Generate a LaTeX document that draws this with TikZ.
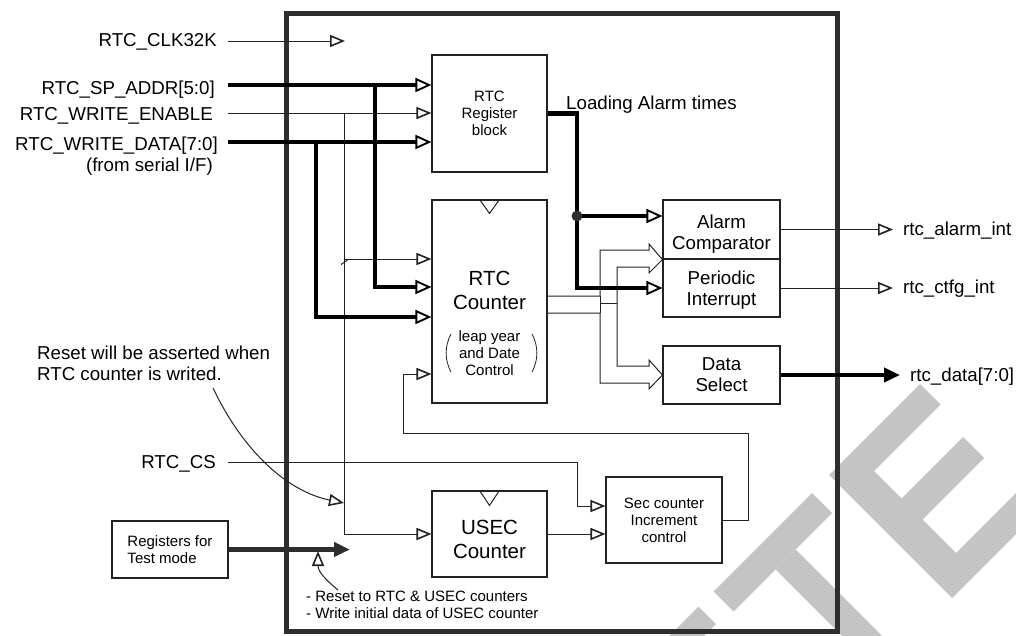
\documentclass[tikz,border=0pt]{standalone}
\usepackage{fontspec}
\setmainfont{Liberation Sans}
\usetikzlibrary{arrows.meta}
\definecolor{frm}{HTML}{2E2E2E}
\definecolor{wm}{HTML}{C4C4C4}
\definecolor{ln}{HTML}{222222}
\newcommand\fLg{\fontsize{18.7}{21}\selectfont}
\newcommand\fSm{\fontsize{15}{17}\selectfont}
\newcommand\fBg{\fontsize{20.5}{24}\selectfont}
\begin{document}
\begin{tikzpicture}[x=1pt,y=-1pt,
  blk/.style={draw=ln, line width=1.1pt, inner sep=0pt, align=center},
  wire/.style={draw=ln, line width=1pt},
  bus/.style={draw=black, line width=4.5pt},
  oa/.style={-{Triangle[open,line width=1.6pt,length=15pt,width=12pt]}},
  ob/.style={-{Triangle[open,line width=1.9pt,length=16pt,width=14pt]}},
  sa/.style={-{Triangle[length=16pt,width=14pt]}},
  lbl/.style={font=\fLg, inner sep=0pt},
  sml/.style={font=\fSm, inner sep=0pt, align=center},
  big/.style={font=\fBg, inner sep=0pt, align=center},
]
\useasboundingbox (0,0) rectangle (1016,635);

% watermark
\begin{scope}
\clip (0,0) rectangle (1016,635);
\fill[wm] (713.5,591.5) -- (812,493) -- (832,513) -- (733.5,611.5) -- cycle;
\fill[wm] (775.5,569.5) -- (795.5,549.5) -- (923,677) -- (903,697) -- cycle;
\fill[wm] (698.5,606.5) -- (716,624) -- (645,695) -- (627.5,677.5) -- cycle;
\fill[wm] (829,475) -- (920,384) -- (940.5,404.5) -- (874,471) -- (901.5,498.5) -- (963,437) -- (984,458) -- (922.5,519.5) -- (956,553) -- (1104.5,404.5) -- (1125,425) -- (952,598) -- cycle;
\end{scope}

% chip frame
\node[draw=frm, line width=5pt, minimum width=551.5pt, minimum height=618pt, inner sep=0pt] (chip) at (561.75,322.5) {};

% blocks
\node[blk, font=\fSm, minimum width=115pt, minimum height=117pt] (reg) at (489.5,113.5) {RTC\\Register\\block};
\node[blk, minimum width=115pt, minimum height=203pt] (cnt) at (489.5,301.5) {};
\node[big] (cntt) at (489.5,290) {RTC\\Counter};
\node[sml] (leap) at (489.5,353) {leap year\\and Date\\Control};
\draw[wire, line width=0.8pt] (451,334) .. controls (444.5,346) and (444.5,360) .. (451,372);
\draw[wire, line width=0.8pt] (532,334) .. controls (538.5,346) and (538.5,360) .. (532,372);
\draw[wire] ([xshift=-10pt]cnt.north) -- ([yshift=-14pt]cnt.north) -- ([xshift=10pt]cnt.north);

\node[blk, minimum width=117pt, minimum height=59pt] (alarm) at (721.5,229.5) {};
\node[lbl, align=center] (alarmt) at (721.5,234.5) {Alarm\\Comparator};
\node[blk, minimum width=117pt, minimum height=58pt] (per) at (721.5,288) {};
\node[lbl, align=center] (pert) at (721.5,290) {Periodic\\Interrupt};
\node[blk, font=\fLg, minimum width=117pt, minimum height=58pt] (ds) at (721.5,375) {Data\\Select};

\node[blk, minimum width=115pt, minimum height=86pt] (usec) at (489.5,534) {};
\node[big] (usect) at (489.5,539) {USEC\\Counter};
\draw[wire] ([xshift=-10pt]usec.north) -- ([yshift=-15pt]usec.north) -- ([xshift=10pt]usec.north);
\node[blk, font=\fSm, minimum width=116pt, minimum height=86pt] (sec) at (664,520) {Sec counter\\Increment\\control};
\node[blk, font=\fSm, align=left, minimum width=116pt, minimum height=57pt] (test) at (170,549.5) {Registers for\\Test mode};

% labels
\node[lbl, anchor=base east] (lclk) at (217,46.7) {RTC\_CLK32K};
\node[lbl, anchor=base east] (lsp) at (215,94.3) {RTC\_SP\_ADDR[5:0]};
\node[lbl, anchor=base east] (lwe) at (213,120.7) {RTC\_WRITE\_ENABLE};
\node[lbl, anchor=base east] (lwd) at (218,150.7) {RTC\_WRITE\_DATA[7:0]};
\node[lbl, anchor=base east] (lser) at (213,171.5) {(from serial I/F)};
\node[lbl, anchor=base east] (lcs) at (216,468.3) {RTC\_CS};
\node[lbl, anchor=base west] (oal) at (903,235) {rtc\_alarm\_int};
\node[lbl, anchor=base west] (oct) at (903,293.5) {rtc\_ctfg\_int};
\node[lbl, anchor=base west] (odt) at (910,381.5) {rtc\_data[7:0]};
\node[lbl, anchor=west] (load) at (566,105) {Loading Alarm times};
\node[lbl, anchor=west, align=left] (note1) at (37,363.5) {Reset will be asserted when\\RTC counter is writed.};
\node[sml, anchor=west, align=left] (note2) at (306,605) {- Reset to RTC \& USEC counters\\- Write initial data of USEC counter};

% input connectors
\coordinate (clkS) at (228,41);
\coordinate (clkT) at (345,41);
\draw[wire,oa] (clkS) -- (clkT);
\coordinate (spS) at (228,85);
\coordinate (weS) at (228,113);
\coordinate (wdS) at (228,142);
\draw[wire,oa] (weS) -- (weS -| reg.west);
\coordinate (weJ) at (344,113);
\draw[wire,oa] (weJ) |- (usec.west);
\coordinate (weK) at (344,259);
\draw[wire,oa] (weK) -- (cnt.west |- weK);
\draw[wire] (341,264.5) -- (347.5,260);
\draw[bus,ob] (spS) -- (spS -| reg.west);
\draw[bus,ob] (wdS) -- (wdS -| reg.west);
\coordinate (spJ) at (375,85);
\draw[bus,ob] (spJ) |- (cnt.west |- 0,287);
\coordinate (wdJ) at (316,142);
\draw[bus,ob] (wdJ) |- (cnt.west |- 0,317);

% hollow bus from counter
\draw[wire] (cnt.east |- 0,296) -- (600,296) -- (600,250) -- (649,250) -- (649,244) -- (alarm.south west) -- (649,273) -- (649,267) -- (617,267) -- (617,366) -- (649,366) -- (649,360) -- (ds.west) -- (649,389) -- (649,383) -- (600,383) -- (600,313) -- (cnt.east |- 0,313);
\draw[wire] (600,296) -- (600,313);
\draw[wire] (600,303) -- (617,303);

% loading alarm times
\coordinate (ldJ) at (reg.east -| 577,0);
\coordinate (ldD) at (577,216);
\draw[bus,ob] (reg.east) -- (ldJ) |- (per.west);
\draw[bus,ob] (ldD) -- (alarm.west |- ldD);
\fill[frm] (ldD) circle (5.5);

% outputs
\coordinate (oaT) at (893,229.5);
\coordinate (ocT) at (893,288);
\coordinate (odT) at (900,375);
\draw[wire,oa] (alarm.east) -- (oaT);
\draw[wire,oa] (per.east) -- (ocT);
\draw[bus,sa] (ds.east) -- (odT);

% feedback and control
\coordinate (fb1) at (748,520);
\coordinate (fb2) at (748,433);
\coordinate (fb3) at (403,433);
\coordinate (fb4) at (403,374);
\draw[wire,oa] (sec.east) -- (fb1) -- (fb2) -- (fb3) -- (fb4) -- (cnt.west |- fb4);
\coordinate (csS) at (228,462);
\coordinate (csJ) at (577,462);
\coordinate (csK) at (577,506);
\draw[wire,oa] (csS) -- (csJ) -- (csK) -- (sec.west |- csK);
\draw[wire,oa] (usec.east) -- (usec.east -| sec.west);

% test mode
\coordinate (tmT) at (350,549.5);
\draw[draw=frm, line width=4.5pt, sa] (test.east) -- (tmT);

% annotation arrows
\coordinate (n1S) at (213,388);
\coordinate (n1E) at (344,503);
\draw[wire,oa] (n1S) .. controls (245,455) and (290,492) .. (n1E);
\coordinate (n2S) at (338,590);
\coordinate (n2E) at (318,551);
\draw[wire,oa] (n2S) .. controls (326,580) and (318,572) .. (n2E);
\end{tikzpicture}
\end{document}
